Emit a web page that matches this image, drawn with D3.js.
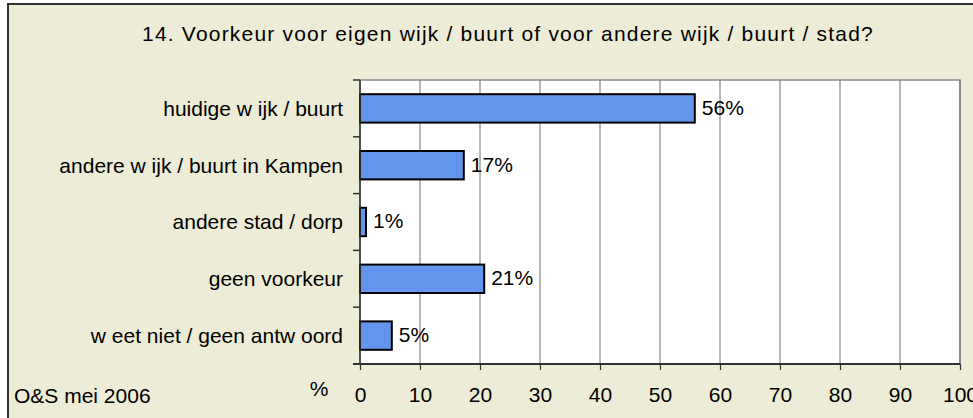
<!DOCTYPE html>
<html lang="nl">
<head>
  <meta charset="UTF-8">
  <title>Voorkeur wijk / buurt</title>
  <script src="https://cdn.jsdelivr.net/npm/d3@7"></script>
  <style>
    body { margin: 0; background: #fff; overflow: hidden; }
    text { font-family: "Liberation Sans", Arial, sans-serif; fill: #000; }
  </style>
</head>
<body>
  <svg width="973" height="418"></svg>

  <script>
    // data
    var categories = ["huidige w ijk / buurt", "andere w ijk / buurt in Kampen", "andere stad / dorp", "geen voorkeur", "w eet niet / geen antw oord"];
    var values = [55.8, 17.3, 1.0, 20.7, 5.3];
    var ticks = [0, 10, 20, 30, 40, 50, 60, 70, 80, 90, 100];

    var svg = d3.select("svg");

    // frame
    svg.append("rect")
      .attr("x", 8).attr("y", 4)
      .attr("width", 975).attr("height", 430)
      .attr("fill", "#edecd6")
      .attr("stroke", "#333").attr("stroke-width", 2);

    svg.append("text")
      .attr("x", 508).attr("y", 41)
      .attr("text-anchor", "middle")
      .style("font-size", "21px")
      .style("letter-spacing", "1.2px")
      .text("14. Voorkeur voor eigen wijk / buurt of voor andere wijk / buurt / stad?");

    var x = d3.scaleLinear().domain([0, 100]).range([360, 960]);
    var y = d3.scaleBand().domain(categories).range([80, 364]).paddingInner(0.5).paddingOuter(0.25);

    // plot area
    svg.append("rect")
      .attr("x", x(0)).attr("y", 80)
      .attr("width", x(100) - x(0)).attr("height", 284)
      .attr("fill", "#fff")
      .attr("stroke", "#888").attr("stroke-width", 1.5);

    svg.append("g").selectAll("line")
      .data(ticks.slice(1))
      .enter().append("line")
      .attr("x1", function (d) { return x(d); })
      .attr("x2", function (d) { return x(d); })
      .attr("y1", 80).attr("y2", 364)
      .attr("stroke", "#707070").attr("stroke-width", 1);

    // bars
    svg.append("g").selectAll("rect")
      .data(values)
      .enter().append("rect")
      .attr("x", x(0))
      .attr("y", function (d, i) { return y(categories[i]); })
      .attr("width", function (d) { return x(d) - x(0); })
      .attr("height", y.bandwidth())
      .attr("fill", "#6495ed")
      .attr("stroke", "#000").attr("stroke-width", 2);

    svg.append("g").selectAll("text")
      .data(values)
      .enter().append("text")
      .attr("x", function (d) { return x(d) + 7; })
      .attr("y", function (d, i) { return y(categories[i]) + y.bandwidth() / 2 - 1; })
      .attr("dy", "0.35em")
      .style("font-size", "21px")
      .text(function (d) { return Math.round(d) + "%"; });

    // y axis: ticks between categories
    var band = (364 - 80) / categories.length;
    var yAxis = svg.append("g");
    yAxis.append("line")
      .attr("x1", x(0)).attr("x2", x(0))
      .attr("y1", 80).attr("y2", 364)
      .attr("stroke", "#333").attr("stroke-width", 1.5);
    yAxis.selectAll("line.tk")
      .data(d3.range(categories.length + 1))
      .enter().append("line")
      .attr("class", "tk")
      .attr("x1", x(0) - 7).attr("x2", x(0))
      .attr("y1", function (i) { return 80 + i * band; })
      .attr("y2", function (i) { return 80 + i * band; })
      .attr("stroke", "#333").attr("stroke-width", 1.5);
    yAxis.selectAll("text")
      .data(categories)
      .enter().append("text")
      .attr("x", 343)
      .attr("y", function (d) { return y(d) + y.bandwidth() / 2; })
      .attr("dy", "0.35em")
      .attr("text-anchor", "end")
      .style("font-size", "21px")
      .text(function (d) { return d; });

    // x axis
    var xAxis = svg.append("g").attr("transform", "translate(0,364)")
      .call(d3.axisBottom(x).tickValues(ticks).tickSize(6).tickPadding(16));
    xAxis.select(".domain").attr("stroke", "#333").attr("stroke-width", 2)
      .attr("d", "M" + (x(0) - 7) + ",0H" + x(100));
    xAxis.selectAll(".tick line").attr("stroke", "#333").attr("stroke-width", 1.2);
    xAxis.selectAll(".tick text")
      .attr("y", 38).attr("dy", null)
      .style("font-size", "21px")
      .style("font-family", "'Liberation Sans', Arial, sans-serif")
      .attr("fill", "#000");

    svg.append("text")
      .attr("x", 319).attr("y", 396)
      .attr("text-anchor", "middle")
      .style("font-size", "21px")
      .text("%");

    svg.append("text")
      .attr("x", 14).attr("y", 403)
      .style("font-size", "21px")
      .text("O&S mei 2006");
  </script>
</body>
</html>
